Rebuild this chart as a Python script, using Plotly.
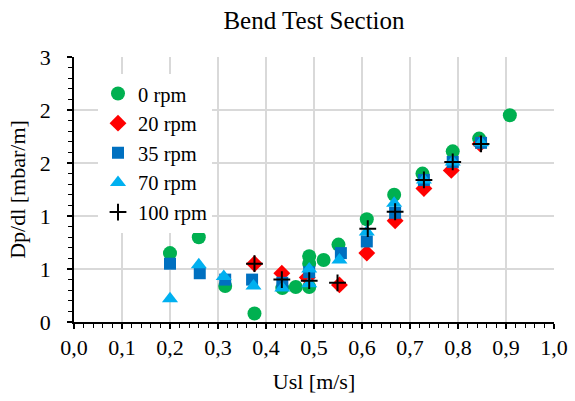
import plotly.graph_objects as go

# ---- data ----
x_0rpm = [0.20, 0.26, 0.315, 0.376, 0.434, 0.462, 0.49, 0.49, 0.49, 0.52, 0.551, 0.61, 0.667, 0.726, 0.789, 0.844, 0.908]
y_0rpm = [0.65, 0.80, 0.34, 0.08, 0.32, 0.33, 0.62, 0.55, 0.33, 0.585, 0.73, 0.97, 1.20, 1.40, 1.61, 1.73, 1.95]

x_20rpm = [0.376, 0.433, 0.486, 0.553, 0.61, 0.669, 0.729, 0.786, 0.846]
y_20rpm = [0.55, 0.46, 0.42, 0.35, 0.65, 0.955, 1.26, 1.43, 1.68]

x_35rpm = [0.20, 0.262, 0.315, 0.371, 0.434, 0.49, 0.556, 0.61, 0.669, 0.729, 0.789, 0.848]
y_35rpm = [0.55, 0.46, 0.40, 0.40, 0.37, 0.47, 0.65, 0.76, 1.03, 1.34, 1.51, 1.69]

x_70rpm = [0.20, 0.26, 0.312, 0.374, 0.434, 0.49, 0.49, 0.553, 0.61, 0.667, 0.729, 0.789, 0.848]
y_70rpm = [0.22, 0.54, 0.43, 0.34, 0.32, 0.50, 0.36, 0.585, 0.85, 1.12, 1.34, 1.51, 1.69]

x_100rpm = [0.376, 0.433, 0.49, 0.549, 0.612, 0.669, 0.729, 0.789, 0.848]
y_100rpm = [0.55, 0.40, 0.39, 0.37, 0.88, 1.04, 1.34, 1.51, 1.68]

series_names = ["0 rpm", "20 rpm", "35 rpm", "70 rpm", "100 rpm"]

y_tickvals = [0, 0.5, 1.0, 1.5, 2.0, 2.5]
y_ticktext = ["0", "1", "1", "2", "2", "3"]

x_tickvals = [0.0, 0.1, 0.2, 0.3, 0.4, 0.5, 0.6, 0.7, 0.8, 0.9, 1.0]
x_ticktext = ["0,0", "0,1", "0,2", "0,3", "0,4", "0,5", "0,6", "0,7", "0,8", "0,9", "1,0"]

FONT = "Liberation Serif"

styles = [
    dict(symbol="circle", color="#00B050", size=14),
    dict(symbol="diamond", color="#FF0000", size=13),
    dict(symbol="square", color="#0070C0", size=12),
    dict(symbol="triangle-up", color="#00B0F0", size=14),
    dict(symbol="cross-thin", color="black", size=12),
]

xs = [x_0rpm, x_20rpm, x_35rpm, x_70rpm, x_100rpm]
ys = [y_0rpm, y_20rpm, y_35rpm, y_70rpm, y_100rpm]

fig = go.Figure()
for i, (name, xv, yv, st) in enumerate(zip(series_names, xs, ys, styles)):
    marker = dict(symbol=st["symbol"], color=st["color"], size=st["size"])
    if st["symbol"] == "cross-thin":
        marker["line"] = dict(color="black", width=2)
    else:
        marker["line"] = dict(width=0)
    fig.add_trace(go.Scatter(x=xv, y=yv, mode="markers", name=name, marker=marker))

fig.update_layout(
    width=575, height=401,
    margin=dict(l=74, r=21, t=57, b=79),
    paper_bgcolor="white", plot_bgcolor="white",
    font=dict(family=FONT, size=22, color="black"),
    title=dict(text="Bend Test Section", x=0.5, xref="paper", y=0.95, yanchor="middle",
               font=dict(family=FONT, size=25, color="black")),
    legend=dict(x=0.05, y=0.937, xanchor="left", yanchor="top",
                bgcolor="white", borderwidth=0, tracegroupgap=0,
                font=dict(family=FONT, size=20.5), itemwidth=30),
    showlegend=True,
)

fig.update_xaxes(
    range=[0, 1], tickvals=x_tickvals, ticktext=x_ticktext,
    showline=True, linecolor="black", linewidth=1.5,
    ticks="outside", ticklen=5, tickwidth=1.5, tickcolor="black",
    showgrid=True, gridcolor="#d9d9d9", gridwidth=1.5, zeroline=False,
    minor=dict(dtick=0.02, ticks="outside", ticklen=4, tickcolor="black", tickwidth=1, showgrid=False),
    title=dict(text="Usl [m/s]", font=dict(family=FONT, size=22), standoff=14),
    tickfont=dict(family=FONT, size=22),
    ticklabelstandoff=0,
    automargin=False,
)
fig.update_yaxes(
    range=[0, 2.5], tickvals=y_tickvals, ticktext=y_ticktext,
    showline=True, linecolor="black", linewidth=1.5,
    ticks="outside", ticklen=5, tickwidth=1.5, tickcolor="black",
    showgrid=True, gridcolor="#d9d9d9", gridwidth=1.5, zeroline=False,
    minor=dict(dtick=0.1, ticks="outside", ticklen=4, tickcolor="black", tickwidth=1, showgrid=False),
    title=dict(text="Dp/dl [mbar/m]", font=dict(family=FONT, size=22), standoff=8),
    tickfont=dict(family=FONT, size=22),
    ticklabelstandoff=12,
    automargin=False,
)

fig.write_html("out.html")
